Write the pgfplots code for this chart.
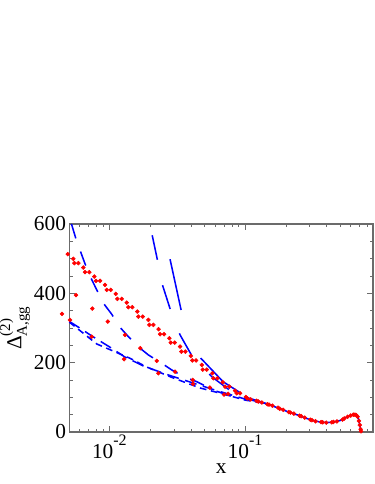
\documentclass[border=0pt]{standalone}
\usepackage{fontspec}
\setmainfont{Liberation Serif}
\usepackage{amsmath}
\usepackage{pgfplots}
\pgfplotsset{compat=1.18}
\definecolor{ablue}{rgb}{0,0,1}
\definecolor{ared}{rgb}{1,0,0}
\definecolor{framec}{rgb}{0.42,0.42,0.42}

\pgfplotstableread{
x y
0.00526 600
0.005683 556.4
0.006154 518.9
0.006620 485.1
0.007330 443.8
0.008075 410.0
0.009032 371.6
0.01041 339.8
0.01185 304.0
0.0138 275.2
0.01683 241.7
0.01939 222.3
0.02364 201.2
0.02883 179.0
0.03510 159.7
0.04405 145.2
0.05808 121.3
0.07753 104
0.1 96
0.13 86
0.16 76
}\curveE

\pgfplotstableread{
x y
0.01985 600
0.02065 568.8
0.0226 496.6
0.02474 421.5
0.02835 349.4
0.0332 280
0.0409 217.4
0.0571 158.8
0.0802 115.5
0.1 100
0.13 87
}\curveA

\pgfplotstableread{
x y
0.02458 600
0.028 498.6
0.03377 352.2
0.040 268
0.0472 212.8
0.0689 145
0.0919 113.5
0.11 97
0.13 87.5
}\curveB

\pgfplotstableread{
x y
0.005072 319
0.00608 299.4
0.00741 277.2
0.01011 244.6
0.01288 217.4
0.01778 190.6
0.0265 166
0.0372 147.2
0.0581 122.7
0.1 95
0.13 86
0.16 77
}\curveC

\pgfplotstableread{
x y
0.005072 317
0.00807 254
0.01418 212.8
0.0188 187.7
0.0295 156
0.0466 127
0.0733 106.8
0.1 92
0.13 85
0.16 77
}\curveD

\pgfplotstableread{
x y
0.1 101
0.129 87.5
0.15 79
0.181 67
0.215 56
0.24 50
0.27 42.5
0.301 35.5
0.35 29.5
0.4 27
0.45 29
0.5 33
0.53 38
0.5615 43
0.6 47.5
0.63 50
0.65 50
0.665 48
0.68 42
0.69 32
0.70 20
0.71 8
0.72 0
}\tailcurve

\pgfplotstableread{
x y
0.004935 513.1
0.005428 499.5
0.005521 487.1
0.005910 487.1
0.006432 474.4
0.006620 461.1
0.007122 461.1
0.007754 448.4
0.007980 436.0
0.008540 436.0
0.009297 424.4
0.009568 410.0
0.01024 410.0
0.01115 398.5
0.01146 384.0
0.01235 384.0
0.01343 373.3
0.0138 360.1
0.01477 360.1
0.01608 347.4
0.01636 332.9
0.01763 332.9
0.01939 323.4
0.01972 309.0
0.02111 309.0
0.02305 296.5
0.02364 282.1
0.02530 282.1
0.02768 270.5
0.02834 257.8
0.03033 257.8
0.03319 246.3
0.03394 231.9
0.03632 231.9
0.0398 219.4
0.04089 206.4
0.04354 206.4
0.04798 193.5
0.04880 179.9
0.05222 179.9
0.05741 169.5
0.05842 155.1
0.06252 155.1
0.06850 143.5
0.07122 130.8
0.07661 130.8
0.08439 119.2
0.08687 111.7
0.09187 111.7
0.1013 101
0.104 97
0.110 94
0.1216 90
0.125 88
0.133 85
0.1459 80
0.150 79
0.159 76
0.175 70
0.180 67
0.191 64
0.21 57.5
0.216 56
0.229 53
0.252 47
0.259 45.5
0.275 41.5
0.3025 35.5
0.311 34
0.33 31
0.363 28.5
0.373 28
0.396 27
0.4356 28
0.448 29
0.475 30.5
0.5227 36
0.538 39
0.57 44
0.60 47.5
0.627 50
0.645 50
0.66 48.5
0.675 44
0.69 32
0.70 20
0.71 8
0.715 2
}\reddense

\pgfplotstableread{
x y
0.00568 394.7
0.00749 356
0.00974 318.5
0.01305 280
0.01692 241.7
0.02235 205
0.0305 174
0.0412 150
0.055 128
0.075 110
}\redA

\pgfplotstableread{
x y
0.00448 340.7
0.00513 323
0.00741 275
0.01283 210
0.02296 169.5
0.0414 138.6
0.07 108
}\redB

\begin{document}
\begin{tikzpicture}[x=1pt,y=1pt]
\path[use as bounding box] (0,0) rectangle (280.5,363);
\begin{axis}[
  at={(52pt,39pt)}, anchor=south west,
  scale only axis, width=227.8pt, height=156pt,
  xmode=log, xmin=0.005072, xmax=0.877, ymin=0, ymax=600,
  clip=false,
  ytick={0,200,400,600}, minor y tick num=3,
  xtick={0.01,0.1},
  xticklabels={{10\raisebox{0.6em}{\fontsize{12}{12}\selectfont -2}},{10\raisebox{0.6em}{\fontsize{12}{12}\selectfont -1}}},
  minor xtick={0.006,0.007,0.008,0.009,0.02,0.03,0.04,0.05,0.06,0.07,0.08,0.09,0.2,0.3,0.4,0.5,0.6,0.7,0.8},
  tick align=inside,
  major tick length=4.5pt, minor tick length=2.5pt,
  axis line style={framec, line width=0.9pt},
  every tick/.style={framec, line width=0.6pt},
  tick label style={font=\fontsize{16}{18}\selectfont, black},
  yticklabel style={xshift=1pt},
  xticklabel style={yshift=1pt},
  /pgf/number format/assume math mode=true,
  xlabel={x},
  ylabel={$\text{Δ}^{\text{(2)}}_{\text{A,gg}}$},
  label style={font=\fontsize{16}{18}\selectfont},
  xlabel style={yshift=3pt},
  ylabel style={yshift=-4pt},
]
\addplot[ablue, line width=1.15pt, no marks] table {\tailcurve};
\addplot[ablue, line width=1.15pt, no marks, dash pattern=on 11.25pt off 10.5pt] table {\curveE};
\addplot[ablue, line width=1.15pt, no marks, dash pattern=on 9pt off 5pt] table {\curveC};
\addplot[ablue, line width=1.15pt, no marks, dash pattern=on 5pt off 3.5pt] table {\curveD};
\addplot[ablue, line width=1.15pt, no marks, dash pattern=on 18.75pt off 19.5pt, dash phase=29.6pt] table {\curveA};
\addplot[ablue, line width=1.15pt, no marks, dash pattern=on 39pt off 39pt, dash phase=51pt] table {\curveB};
\addplot[only marks, mark=*, mark size=1.45pt, ared, mark options={draw=ared, fill=ared}] table {\reddense};
\addplot[only marks, mark=*, mark size=1.45pt, ared, mark options={draw=ared, fill=ared}] table {\redA};
\addplot[only marks, mark=*, mark size=1.45pt, ared, mark options={draw=ared, fill=ared}] table {\redB};
\end{axis}
\end{tikzpicture}
\end{document}
